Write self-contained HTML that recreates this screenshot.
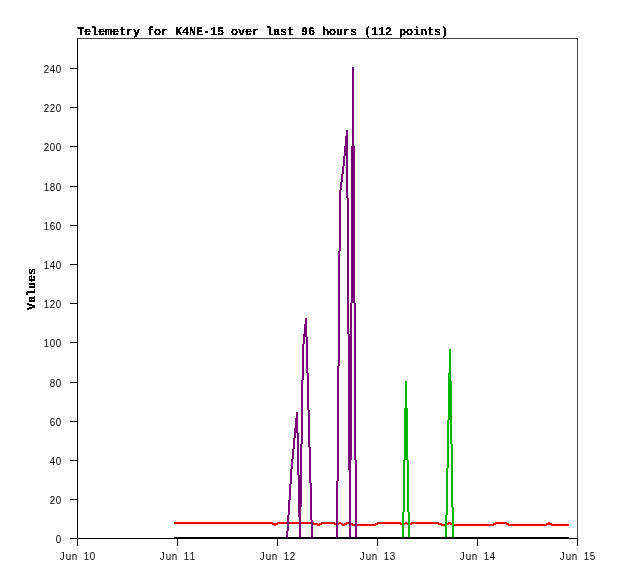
<!DOCTYPE html>
<html><head><meta charset="utf-8"><title>Telemetry for K4NE-15</title>
<style>html,body{margin:0;padding:0;background:#fff;width:618px;height:579px;overflow:hidden}svg{display:block;will-change:transform}</style>
</head><body>
<svg width="618" height="579" viewBox="0 0 618 579" shape-rendering="crispEdges"><rect x="0" y="0" width="618" height="579" fill="#fff"/><rect x="77" y="38" width="501" height="1" fill="#484848"/><rect x="577" y="38" width="1" height="500" fill="#484848"/><path fill="#ff0000" d="M174 522h98v2h-98zM278 522h35v2h-35zM322 522h12v2h-12zM339 522h2v2h-2zM347 522h4v2h-4zM378 522h22v2h-22zM405 522h2v2h-2zM412 522h26v2h-26zM449 522h1v2h-1zM496 522h10v2h-10zM272 522h1v3h-1zM277 522h1v3h-1zM313 522h1v3h-1zM321 522h1v3h-1zM334 522h1v3h-1zM346 522h1v3h-1zM377 522h1v3h-1zM400 522h1v3h-1zM411 522h1v3h-1zM438 522h1v3h-1zM448 522h1v3h-1zM450 522h1v3h-1zM495 522h1v3h-1zM506 522h1v3h-1zM548 522h2v3h-2zM273 523h1v2h-1zM276 523h1v2h-1zM314 523h3v2h-3zM320 523h1v2h-1zM335 523h4v2h-4zM341 523h1v2h-1zM345 523h1v2h-1zM351 523h1v2h-1zM376 523h1v2h-1zM401 523h4v2h-4zM407 523h4v2h-4zM439 523h2v2h-2zM447 523h1v2h-1zM451 523h2v2h-2zM494 523h1v2h-1zM507 523h1v2h-1zM547 523h1v2h-1zM550 523h1v2h-1zM274 523h2v3h-2zM317 523h1v3h-1zM319 523h1v3h-1zM342 523h1v3h-1zM344 523h1v3h-1zM352 523h1v3h-1zM375 523h1v3h-1zM441 523h1v3h-1zM493 523h1v3h-1zM508 523h1v3h-1zM546 523h1v3h-1zM551 523h1v3h-1zM318 524h1v2h-1zM343 524h1v2h-1zM353 524h22v2h-22zM442 524h5v2h-5zM453 524h40v2h-40zM509 524h37v2h-37zM552 524h17v2h-17z"/><path fill="#780078" d="M352 67h2v236h-2zM346 130h1v68h-1zM347 130h1v204h-1zM345 136h1v20h-1zM344 146h1v20h-1zM351 146h1v314h-1zM354 146h1v314h-1zM343 156h1v18h-1zM342 166h1v16h-1zM341 174h1v16h-1zM340 182h1v69h-1zM339 190h1v176h-1zM348 198h1v272h-1zM338 251h1v230h-1zM350 303h1v234h-1zM355 303h1v234h-1zM305 318h1v19h-1zM306 318h1v55h-1zM304 324h1v20h-1zM303 334h1v46h-1zM349 334h1v203h-1zM307 337h1v73h-1zM302 344h1v100h-1zM337 366h1v171h-1zM308 373h1v74h-1zM301 380h1v127h-1zM309 410h1v73h-1zM296 412h1v21h-1zM297 412h1v63h-1zM295 418h1v20h-1zM294 428h1v21h-1zM298 433h1v84h-1zM293 438h1v21h-1zM300 444h1v93h-1zM310 447h1v73h-1zM292 449h1v20h-1zM291 459h1v25h-1zM356 460h1v77h-1zM290 469h1v31h-1zM299 475h1v62h-1zM336 481h1v56h-1zM311 483h1v54h-1zM289 484h1v31h-1zM288 500h1v31h-1zM287 515h1v22h-1zM312 520h1v17h-1zM286 531h1v6h-1z"/><path fill="#00b400" d="M449 349h1v71h-1zM450 349h1v95h-1zM448 373h1v95h-1zM405 381h2v79h-2zM451 381h1v126h-1zM404 408h1v104h-1zM407 408h1v104h-1zM447 420h1v95h-1zM452 444h1v93h-1zM403 460h1v77h-1zM408 460h1v77h-1zM446 468h1v69h-1zM453 507h1v30h-1zM402 512h1v25h-1zM409 512h1v25h-1zM445 515h1v22h-1z"/><rect x="174" y="537" width="395" height="2" fill="#000"/><path fill="#000" d="M77 38h1v501h-1zM77 538h501v1h-501zM70 538h7v1h-7zM70 499h7v1h-7zM70 460h7v1h-7zM70 421h7v1h-7zM70 382h7v1h-7zM70 342h7v1h-7zM70 303h7v1h-7zM70 264h7v1h-7zM70 225h7v1h-7zM70 186h7v1h-7zM70 146h7v1h-7zM70 107h7v1h-7zM70 68h7v1h-7zM77 538h1v8h-1zM177 538h1v8h-1zM277 538h1v8h-1zM377 538h1v8h-1zM477 538h1v8h-1zM577 538h1v8h-1z"/><defs><filter id="bs" x="0" y="0" width="100%" height="100%" color-interpolation-filters="sRGB"><feComponentTransfer><feFuncA type="discrete" tableValues=""/></feComponentTransfer></filter><filter id="bb" x="0" y="0" width="100%" height="100%" color-interpolation-filters="sRGB"><feComponentTransfer><feFuncA type="discrete" tableValues="0 1 1"/></feComponentTransfer></filter></defs><g fill="#000"><text font-family="'Liberation Sans', sans-serif" font-size="11.5" transform="scale(0.85 1)" x="65.529" y="543">0</text><text font-family="'Liberation Sans', sans-serif" font-size="11.5" transform="scale(0.85 1)" x="58.471 65.529" y="504">20</text><text font-family="'Liberation Sans', sans-serif" font-size="11.5" transform="scale(0.85 1)" x="58.471 65.529" y="465">40</text><text font-family="'Liberation Sans', sans-serif" font-size="11.5" transform="scale(0.85 1)" x="58.471 65.529" y="426">60</text><text font-family="'Liberation Sans', sans-serif" font-size="11.5" transform="scale(0.85 1)" x="58.471 65.529" y="387">80</text><text font-family="'Liberation Sans', sans-serif" font-size="11.5" transform="scale(0.85 1)" x="51.412 58.471 65.529" y="347">100</text><text font-family="'Liberation Sans', sans-serif" font-size="11.5" transform="scale(0.85 1)" x="51.412 58.471 65.529" y="308">120</text><text font-family="'Liberation Sans', sans-serif" font-size="11.5" transform="scale(0.85 1)" x="51.412 58.471 65.529" y="269">140</text><text font-family="'Liberation Sans', sans-serif" font-size="11.5" transform="scale(0.85 1)" x="51.412 58.471 65.529" y="230">160</text><text font-family="'Liberation Sans', sans-serif" font-size="11.5" transform="scale(0.85 1)" x="51.412 58.471 65.529" y="191">180</text><text font-family="'Liberation Sans', sans-serif" font-size="11.5" transform="scale(0.85 1)" x="51.412 58.471 65.529" y="151">200</text><text font-family="'Liberation Sans', sans-serif" font-size="11.5" transform="scale(0.85 1)" x="51.412 58.471 65.529" y="112">220</text><text font-family="'Liberation Sans', sans-serif" font-size="11.5" transform="scale(0.85 1)" x="51.412 58.471 65.529" y="73">240</text><text font-family="'Liberation Sans', sans-serif" font-size="11.5" transform="scale(0.85 1)" x="70.235 77.294 84.353 91.412 98.471 105.529" y="560">Jun 10</text><text font-family="'Liberation Sans', sans-serif" font-size="11.5" transform="scale(0.85 1)" x="187.882 194.941 202 209.059 216.118 223.176" y="560">Jun 11</text><text font-family="'Liberation Sans', sans-serif" font-size="11.5" transform="scale(0.85 1)" x="305.529 312.588 319.647 326.706 333.765 340.824" y="560">Jun 12</text><text font-family="'Liberation Sans', sans-serif" font-size="11.5" transform="scale(0.85 1)" x="423.176 430.235 437.294 444.353 451.412 458.471" y="560">Jun 13</text><text font-family="'Liberation Sans', sans-serif" font-size="11.5" transform="scale(0.85 1)" x="540.824 547.882 554.941 562 569.059 576.118" y="560">Jun 14</text><text font-family="'Liberation Sans', sans-serif" font-size="11.5" transform="scale(0.85 1)" x="658.471 665.529 672.588 679.647 686.706 693.765" y="560">Jun 15</text></g><g fill="#000" filter="url(#bb)"><text text-rendering="geometricPrecision" font-family="'Liberation Mono', monospace" font-size="11.8" font-weight="bold" x="77 84 91 98 105 112 119 126 133 140 147 154 161 168 175 182 189 196 203 210 217 224 231 238 245 252 259 266 273 280 287 294 301 308 315 322 329 336 343 350 357 364 371 378 385 392 399 406 413 420 427 434 441" y="35">Telemetry for K4NE-15 over last 96 hours (112 points)</text><text text-rendering="geometricPrecision" font-family="'Liberation Mono', monospace" font-size="11.8" font-weight="bold" transform="translate(35,310) rotate(-90)" x="0 7 14 21 28 35" y="0">Values</text></g></svg>
</body></html>
